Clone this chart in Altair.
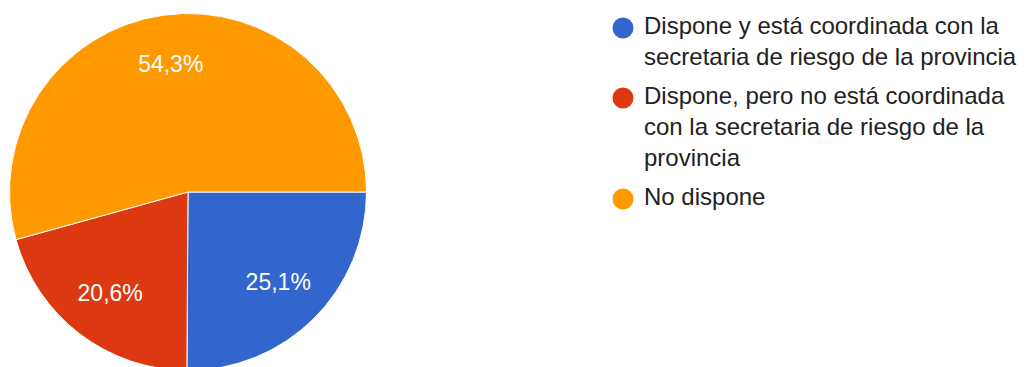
import math
import altair as alt
import pandas as pd

categorias = [
    "Dispone y está coordinada con la\nsecretaria de riesgo de la provincia",
    "Dispone, pero no está coordinada\ncon la secretaria de riesgo de la\nprovincia",
    "No dispone",
]
valores = [25.1, 20.6, 54.3]
etiquetas = ["25,1%", "20,6%", "54,3%"]
colores = ["#3366CC", "#DC3912", "#FF9900"]

df = pd.DataFrame({
    "categoria": categorias,
    "valor": valores,
    "etiqueta": etiquetas,
    "orden": list(range(len(categorias))),
})

FONT = "Arial, Liberation Sans, sans-serif"
CX, CY, R = 180, 184, 178.5

theta = alt.Theta("valor:Q", stack=True,
                  scale=alt.Scale(range=[math.pi / 2, math.pi / 2 + 2 * math.pi]))

base = alt.Chart(df)

arcs = base.mark_arc(outerRadius=R, stroke="white", strokeWidth=1).encode(
    theta=theta,
    color=alt.Color(
        "categoria:N",
        scale=alt.Scale(domain=categorias, range=colores),
        sort=categorias,
        legend=alt.Legend(
            title=None,
            orient="none",
            legendX=603,
            legendY=8,
            symbolType="circle",
            symbolSize=441,
            symbolStrokeWidth=0,
            symbolOpacity=1,
            labelFont=FONT,
            labelFontSize=24,
            labelColor="#222222",
            labelLimit=1000,
            labelOffset=9,
            labelBaseline="top",
            rowPadding=15,
            padding=0,
            labelExpr="split(datum.label, '\\n')",
        ),
    ),
    order=alt.Order("orden:Q"),
    x=alt.value(CX),
    y=alt.value(CY),
)

labels = base.mark_text(radius=128, fontSize=23, font=FONT, color="white",
                        align="center", baseline="middle").encode(
    theta=theta,
    text="etiqueta:N",
    order=alt.Order("orden:Q"),
    x=alt.value(CX),
    y=alt.value(CY),
)

chart = (arcs + labels).properties(
    width=1013, height=359, padding=0,
    autosize=alt.AutoSizeParams(type="none"),
).configure(
    view={"stroke": None},
    style={"guide-label": {"lineHeight": 31, "dy": -13}},
)

chart.save("out.html", embed_options={"renderer": "svg", "actions": False})
